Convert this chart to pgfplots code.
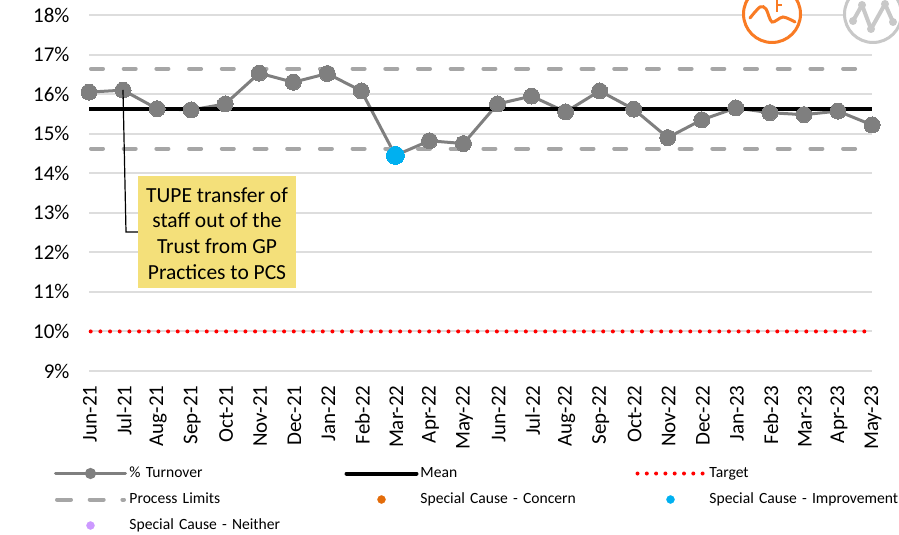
\documentclass[border=0pt]{standalone}
\usepackage{pgfplots}
\pgfplotsset{compat=1.18}
\usepackage{fontspec}
\setmainfont{Carlito}
\definecolor{gridc}{HTML}{DDDDDD}
\definecolor{turnc}{HTML}{7F7F7F}
\definecolor{limc}{HTML}{A6A6A6}
\definecolor{impc}{HTML}{00B0F0}
\definecolor{conc}{HTML}{E36C0A}
\definecolor{neic}{HTML}{CC99FF}
\definecolor{notec}{HTML}{F4E07A}
\definecolor{iconor}{HTML}{F97B24}
\definecolor{icongr}{HTML}{C8C8C8}
\begin{document}
\begin{tikzpicture}[x=1pt,y=1pt]
\path[use as bounding box] (0,0) rectangle (899,535);
\begin{axis}[
  at={(89pt,164pt)},anchor=south west,
  width=783pt,height=356pt,scale only axis,
  xmin=0,xmax=23,ymin=9,ymax=18,
  axis line style={draw=none},
  clip=false,
  ytick={9,...,18},
  yticklabel={\pgfmathprintnumber{\tick}\%},
  /pgf/number format/assume math mode=true,
  xtick={0,...,23},
  xticklabels={Jun-21,Jul-21,Aug-21,Sep-21,Oct-21,Nov-21,Dec-21,Jan-22,Feb-22,Mar-22,Apr-22,May-22,Jun-22,Jul-22,Aug-22,Sep-22,Oct-22,Nov-22,Dec-22,Jan-23,Feb-23,Mar-23,Apr-23,May-23},
  x tick label style={rotate=90,anchor=east,font=\fontsize{21}{21}\selectfont,yshift=-1pt,xshift=-11pt},
  y tick label style={font=\fontsize{21}{21}\selectfont,xshift=-16pt},
  major tick length=0pt,
  ymajorgrids,
  grid style={draw=gridc,line width=2pt},
  legend columns=3,
  legend style={draw=none,fill=none,at={(-35pt,-95pt)},anchor=north west,
    font=\fontsize{15.6}{15.6}\selectfont,
    row sep=11pt,inner sep=0pt,outer sep=0pt,
    nodes={text width=215pt,align=left,inner sep=0pt,text height=11pt,text depth=4pt},
  },
]
\addplot[turnc,line width=3pt,mark=*,mark size=8pt,mark options={fill=turnc,draw=turnc,line width=0pt},
  legend image code/.code={
    \path[draw=none] (0,0) -- (74pt,0);
    \draw[turnc,line width=3pt,line cap=round] (0,0) -- (70pt,0);
    \fill[turnc] (35pt,0) circle (4pt);}] table {
0 16.05
1 16.10
2 15.63
3 15.60
4 15.75
5 16.53
6 16.30
7 16.52
8 16.08
9 14.45
10 14.82
11 14.75
12 15.75
13 15.95
14 15.55
15 16.08
16 15.62
17 14.90
18 15.35
19 15.65
20 15.53
21 15.48
22 15.57
23 15.22
};
\addlegendentry{\% Turnover}
\addplot[black,line width=4pt,
  legend image code/.code={\path[draw=none] (0,0) -- (74pt,0);\draw[black,line width=4pt,line cap=round] (0,0) -- (70pt,0);}] coordinates {(0,15.63) (23,15.63)};
\addlegendentry{Mean}
\addplot[red,line width=4pt,line cap=round,dash pattern=on 0pt off 9.67pt,
  legend image code/.code={\path[draw=none] (0,0) -- (74pt,0);\draw[red,line width=4pt,line cap=round,dash pattern=on 0pt off 9.3pt] (2pt,0) -- (70pt,0);}] coordinates {(0.05,10) (23,10)};
\addlegendentry{Target}
\addplot[limc,line width=4pt,dash pattern=on 12pt off 20.7pt,dash phase=30.7pt,line cap=round,
  legend image code/.code={\path[draw=none] (0,0) -- (74pt,0);\draw[limc,line width=4pt,line cap=round,dash pattern=on 14pt off 18.7pt,dash phase=0pt] (1.5pt,0) -- (68.5pt,0);}] coordinates {(0,16.64) (23,16.64)};
\addlegendentry{Process Limits}
\addplot[limc,line width=4pt,dash pattern=on 12pt off 20.7pt,dash phase=30.7pt,line cap=round,forget plot] coordinates {(0,14.62) (23,14.62)};
\addlegendimage{legend image code/.code={\path[draw=none] (0,0) -- (74pt,0);\fill[conc] (35pt,0) circle (4pt);}}
\addlegendentry{Special Cause - Concern}
\addplot[only marks,mark=*,mark size=9pt,impc,mark options={fill=impc,draw=impc,line width=0pt},
  legend image code/.code={\path[draw=none] (0,0) -- (74pt,0);\fill[impc] (35pt,0) circle (4pt);}] coordinates {(9,14.45)};
\addlegendentry{Special Cause - Improvement}
\addlegendimage{legend image code/.code={\path[draw=none] (0,0) -- (74pt,0);\fill[neic] (35pt,0) circle (4pt);}}
\addlegendentry{Special Cause - Neither}
\end{axis}
% callout
\draw[black,line width=1.2pt] (123,445) -- (126,303) -- (138,303);
\fill[notec] (138,247) rectangle (296,359);
\node[inner sep=0pt,align=center,
  font=\fontsize{21.5}{25.8}\selectfont] at (217,301.5) {TUPE transfer of\\staff out of the\\Trust from GP\\Practices to PCS};
% icons
\draw[iconor,line width=3pt,fill=white] (772,521) circle (28.5);
\draw[iconor,line width=3pt,line cap=round] plot[smooth] coordinates {(750,517) (760,528) (766,526) (772,513) (783,518) (795,513)};
\draw[iconor,line width=2.5pt] (777,535) -- (777,523) (777,530) -- (782,530);
\draw[icongr,line width=3pt,fill=white] (873,521) circle (28.5);
\draw[icongr,line width=4pt,line cap=round,line join=round] (853,514) -- (862,530) -- (871,506) -- (885,531) -- (893,513);
\foreach \p in {(853,514),(862,530),(871,506),(885,531),(893,513)} \fill[icongr] \p circle (4);
\end{tikzpicture}
\end{document}
